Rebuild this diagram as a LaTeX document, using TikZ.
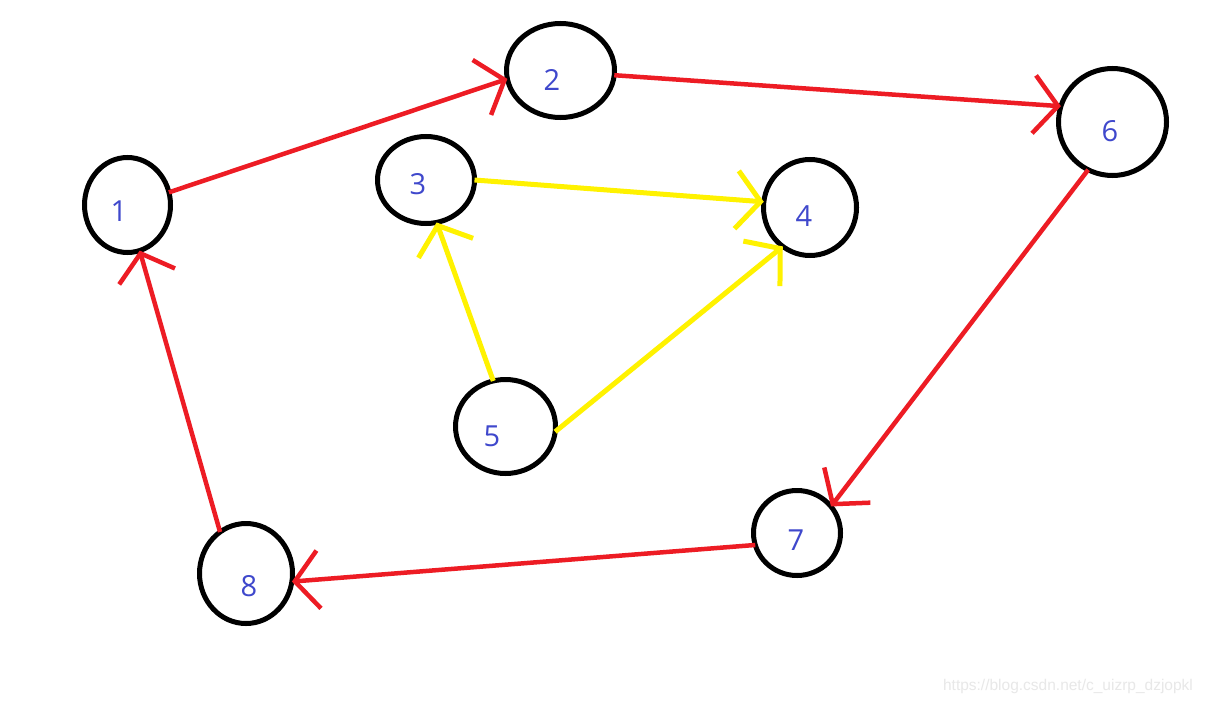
\documentclass[tikz,border=0pt]{standalone}
\usepackage{fontspec}
\newfontfamily\labfont{Open Sans}
\newfontfamily\wmfont{Liberation Sans}
\usetikzlibrary{shapes.geometric,arrows.meta}
\definecolor{pred}{RGB}{237,28,36}
\definecolor{pyel}{RGB}{255,242,0}
\definecolor{pblue}{RGB}{63,72,204}
\definecolor{wmgray}{RGB}{232,232,232}
\tikzset{
  vtx/.style={ellipse, draw=black, line width=5pt, inner sep=0pt, outer sep=0pt},
  lbl/.style={text=pblue, font=\labfont\fontsize{29}{30}\selectfont, inner sep=0pt},
  redarr/.style={draw=pred, line width=4.5pt, -{Straight Barb[length=24pt,width=58pt]}},
  yelarr/.style={draw=pyel, line width=5pt, -{Straight Barb[length=24pt,width=58pt]}},
}
\begin{document}
\begin{tikzpicture}[x=1pt,y=-1pt]
\fill[white] (0,0) rectangle (1206,704);
\useasboundingbox (0,0) rectangle (1206,704);
% vertices
\node[vtx, minimum width=86pt, minimum height=95pt] (n1) at (127.5,205) {};
\node[vtx, minimum width=108pt, minimum height=94pt] (n2) at (560.5,70.5) {};
\node[vtx, minimum width=97pt, minimum height=87pt] (n3) at (426,180) {};
\node[vtx, minimum width=93pt, minimum height=96pt] (n4) at (810,207.5) {};
\node[vtx, minimum width=100pt, minimum height=94pt] (n5) at (505.5,426.5) {};
\node[vtx, minimum width=108pt, minimum height=107pt] (n6) at (1112.5,122) {};
\node[vtx, minimum width=87pt, minimum height=85pt] (n7) at (797,533) {};
\node[vtx, minimum width=93pt, minimum height=100pt] (n8) at (246,573.5) {};
% labels
\node[lbl] (l1) at (119,211) {1};
\node[lbl] (l2) at (552,80) {2};
\node[lbl] (l3) at (418,184) {3};
\node[lbl] (l4) at (804,216) {4};
\node[lbl] (l5) at (492,436) {5};
\node[lbl] (l6) at (1110,131) {6};
\node[lbl] (l7) at (796,540) {7};
\node[lbl] (l8) at (249,586) {8};
% red cycle
\draw[redarr] (n1.17) -- (n2.189);
\draw[redarr] (n2.-5) -- (n6.163);
\draw[redarr] (n6.243) -- (n7.38);
\draw[redarr] (n7.196) -- (n8.-10);
\draw[redarr] (n8.122) -- (n1.-75);
% yellow
\draw[yelarr] (n3.0) -- (n4.173);
\draw[yelarr] (n5.105) -- (n3.-76);
\draw[yelarr] (n5.-6) -- (n4.235);
% watermark
\node[text=wmgray, font=\wmfont\fontsize{15.5}{16}\selectfont, inner sep=0pt] (wm) at (1068,686) {https://blog.csdn.net/c\_uizrp\_dzjopkl};
\end{tikzpicture}
\end{document}
